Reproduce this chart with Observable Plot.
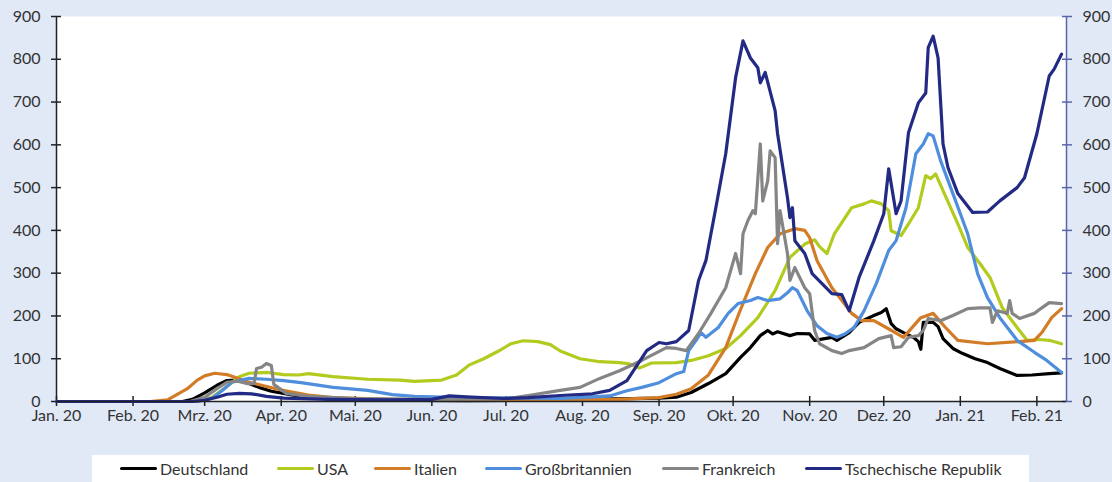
<!DOCTYPE html>
<html><head><meta charset="utf-8">
<script src="https://cdn.jsdelivr.net/npm/d3@7"></script>
<script src="https://cdn.jsdelivr.net/npm/@observablehq/plot@0.6"></script>
<style>
body{margin:0;background:#e1e9f7;font-family:Lato,sans-serif;}
#wrap{position:relative;width:1112px;height:482px;overflow:hidden;}
#chart{position:absolute;left:0;top:0;}
#legend{position:absolute;left:92px;top:455px;width:937px;height:27px;background:#fff;}
.item{position:absolute;top:0;height:27px;display:flex;align-items:center;font-size:16px;color:#333;white-space:nowrap;}
.sw{width:37px;height:3.5px;margin-right:3px;border-radius:2px;}
</style></head>
<body><div id="wrap"><div id="chart"></div><div id="legend"></div></div>
<script>
const countries = ["Deutschland","USA","Italien","Großbritannien","Frankreich","Tschechische Republik"];
const colors = ["#000000","#b3cb1f","#d27c27","#4f8edc","#858585","#222a84"];
const monthLabels = ["Jan. 20","Feb. 20","Mrz. 20","Apr. 20","Mai. 20","Jun. 20","Jul. 20","Aug. 20","Sep. 20","Okt. 20","Nov. 20","Dez. 20","Jan. 21","Feb. 21"];
const monthDates = ["2020-01-01","2020-02-01","2020-03-01","2020-04-01","2020-05-01","2020-06-01","2020-07-01","2020-08-01","2020-09-01","2020-10-01","2020-11-01","2020-12-01","2021-01-01","2021-02-01"];
const yTicks = [0,100,200,300,400,500,600,700,800,900];

const deutschland = [["2020-01-01",0],["2020-02-21",0],["2020-02-25",5],["2020-03-01",20],["2020-03-06",38],["2020-03-10",49],["2020-03-14",50],["2020-03-19",42],["2020-03-23",33],["2020-03-28",24],["2020-04-03",18],["2020-04-09",12],["2020-04-20",6],["2020-05-10",3],["2020-06-15",2],["2020-07-15",3],["2020-08-15",6],["2020-09-01",8],["2020-09-08",10],["2020-09-14",21],["2020-09-21",42],["2020-09-28",65],["2020-10-04",103],["2020-10-08",126],["2020-10-12",154],["2020-10-15",166],["2020-10-17",158],["2020-10-19",163],["2020-10-24",154],["2020-10-27",159],["2020-11-01",158],["2020-11-03",143],["2020-11-10",150],["2020-11-12",143],["2020-11-17",161],["2020-11-21",185],["2020-11-27",201],["2020-11-30",208],["2020-12-02",217],["2020-12-04",182],["2020-12-06",170],["2020-12-09",161],["2020-12-13",150],["2020-12-15",140],["2020-12-16",122],["2020-12-17",185],["2020-12-21",185],["2020-12-23",175],["2020-12-25",147],["2020-12-29",124],["2021-01-02",112],["2021-01-07",100],["2021-01-12",91],["2021-01-17",77],["2021-01-24",61],["2021-01-30",62],["2021-02-06",65],["2021-02-11",67]];
const usa = [["2020-01-01",0],["2020-02-26",0],["2020-03-04",10],["2020-03-10",35],["2020-03-15",58],["2020-03-19",66],["2020-03-26",68],["2020-04-02",63],["2020-04-08",62],["2020-04-12",65],["2020-04-22",58],["2020-05-06",52],["2020-05-19",50],["2020-05-25",47],["2020-06-05",50],["2020-06-11",62],["2020-06-16",85],["2020-06-22",100],["2020-06-28",118],["2020-07-03",135],["2020-07-08",142],["2020-07-14",140],["2020-07-19",133],["2020-07-23",118],["2020-07-31",100],["2020-08-08",93],["2020-08-16",91],["2020-08-20",88],["2020-08-24",78],["2020-08-29",90],["2020-09-08",91],["2020-09-14",96],["2020-09-21",107],["2020-09-28",124],["2020-10-04",154],["2020-10-11",196],["2020-10-18",259],["2020-10-24",337],["2020-10-30",368],["2020-11-03",378],["2020-11-05",362],["2020-11-08",346],["2020-11-11",392],["2020-11-18",453],["2020-11-23",462],["2020-11-26",469],["2020-11-30",462],["2020-12-03",446],["2020-12-04",399],["2020-12-08",388],["2020-12-11",415],["2020-12-15",453],["2020-12-18",528],["2020-12-20",521],["2020-12-22",532],["2020-12-25",493],["2020-12-31",415],["2021-01-04",360],["2021-01-09",322],["2021-01-13",290],["2021-01-18",219],["2021-01-24",173],["2021-01-28",143],["2021-02-02",145],["2021-02-06",143],["2021-02-11",135]];
const italien = [["2020-01-01",0],["2020-02-08",0],["2020-02-15",4],["2020-02-18",14],["2020-02-23",30],["2020-02-27",50],["2020-03-01",60],["2020-03-05",66],["2020-03-10",63],["2020-03-19",45],["2020-03-31",28],["2020-04-12",15],["2020-04-22",9],["2020-05-15",5],["2020-06-15",3],["2020-07-15",3],["2020-08-15",5],["2020-09-01",9],["2020-09-08",17],["2020-09-14",30],["2020-09-21",62],["2020-09-28",126],["2020-10-04",215],["2020-10-10",299],["2020-10-15",360],["2020-10-20",392],["2020-10-26",404],["2020-10-30",400],["2020-11-01",383],["2020-11-04",329],["2020-11-10",266],["2020-11-15",229],["2020-11-18",206],["2020-11-22",189],["2020-11-27",189],["2020-12-02",173],["2020-12-09",150],["2020-12-16",196],["2020-12-21",206],["2020-12-26",173],["2020-12-31",143],["2021-01-12",135],["2021-01-25",140],["2021-01-31",143],["2021-02-03",161],["2021-02-07",196],["2021-02-11",217]];
const grossbritannien = [["2020-01-01",0],["2020-02-27",0],["2020-03-04",8],["2020-03-08",25],["2020-03-12",45],["2020-03-19",54],["2020-03-26",52],["2020-04-02",49],["2020-04-09",44],["2020-04-22",33],["2020-05-06",26],["2020-05-16",16],["2020-05-25",12],["2020-06-12",9],["2020-07-10",8],["2020-07-23",7],["2020-08-05",11],["2020-08-12",13],["2020-08-19",25],["2020-08-25",33],["2020-09-01",44],["2020-09-08",65],["2020-09-11",70],["2020-09-13",119],["2020-09-16",143],["2020-09-18",161],["2020-09-20",150],["2020-09-25",173],["2020-09-29",206],["2020-10-03",229],["2020-10-08",236],["2020-10-11",243],["2020-10-15",236],["2020-10-20",240],["2020-10-23",254],["2020-10-25",266],["2020-10-27",259],["2020-10-31",212],["2020-11-04",177],["2020-11-08",159],["2020-11-12",150],["2020-11-15",157],["2020-11-19",173],["2020-11-23",212],["2020-11-28",276],["2020-12-03",353],["2020-12-06",376],["2020-12-10",453],["2020-12-14",579],["2020-12-17",602],["2020-12-19",626],["2020-12-21",621],["2020-12-24",563],["2020-12-29",486],["2021-01-04",392],["2021-01-08",299],["2021-01-12",243],["2021-01-17",196],["2021-01-24",143],["2021-01-31",115],["2021-02-05",96],["2021-02-11",68]];
const frankreich = [["2020-01-01",0],["2020-02-24",0],["2020-03-01",10],["2020-03-06",30],["2020-03-10",45],["2020-03-14",48],["2020-03-18",42],["2020-03-21",42],["2020-03-22",77],["2020-03-24",80],["2020-03-26",89],["2020-03-28",84],["2020-03-29",40],["2020-04-03",19],["2020-04-12",12],["2020-05-01",7],["2020-06-01",5],["2020-07-01",6],["2020-07-10",14],["2020-07-23",26],["2020-07-31",33],["2020-08-08",54],["2020-08-16",72],["2020-08-25",96],["2020-09-04",126],["2020-09-08",124],["2020-09-12",119],["2020-09-17",159],["2020-09-22",206],["2020-09-28",266],["2020-10-02",346],["2020-10-04",299],["2020-10-05",392],["2020-10-07",423],["2020-10-09",446],["2020-10-10",439],["2020-10-12",602],["2020-10-13",469],["2020-10-15",516],["2020-10-16",586],["2020-10-18",570],["2020-10-19",369],["2020-10-20",446],["2020-10-23",346],["2020-10-24",283],["2020-10-26",313],["2020-10-30",266],["2020-11-01",252],["2020-11-03",166],["2020-11-05",135],["2020-11-10",119],["2020-11-14",112],["2020-11-17",119],["2020-11-23",126],["2020-11-29",147],["2020-12-04",154],["2020-12-05",126],["2020-12-08",128],["2020-12-11",150],["2020-12-15",154],["2020-12-17",166],["2020-12-19",194],["2020-12-24",189],["2020-12-29",201],["2021-01-04",217],["2021-01-09",219],["2021-01-13",219],["2021-01-14",185],["2021-01-16",212],["2021-01-20",206],["2021-01-21",236],["2021-01-22",206],["2021-01-25",194],["2021-01-31",206],["2021-02-03",219],["2021-02-06",231],["2021-02-11",229]];
const tschechien = [["2020-01-01",0],["2020-02-25",0],["2020-03-01",3],["2020-03-06",10],["2020-03-10",17],["2020-03-15",19],["2020-03-20",18],["2020-03-26",12],["2020-04-02",8],["2020-04-20",5],["2020-05-15",4],["2020-06-01",5],["2020-06-08",13],["2020-06-15",11],["2020-06-30",7],["2020-07-10",9],["2020-07-23",14],["2020-08-05",18],["2020-08-12",26],["2020-08-19",49],["2020-08-27",119],["2020-09-01",138],["2020-09-04",135],["2020-09-08",140],["2020-09-13",166],["2020-09-17",283],["2020-09-20",330],["2020-09-24",453],["2020-09-28",579],["2020-10-02",757],["2020-10-05",843],["2020-10-08",803],["2020-10-11",780],["2020-10-12",745],["2020-10-14",769],["2020-10-18",680],["2020-10-19",626],["2020-10-23",477],["2020-10-24",430],["2020-10-25",453],["2020-10-26",376],["2020-10-30",346],["2020-11-02",299],["2020-11-10",252],["2020-11-14",250],["2020-11-17",212],["2020-11-21",290],["2020-11-27",376],["2020-12-01",439],["2020-12-03",544],["2020-12-06",439],["2020-12-08",469],["2020-12-11",628],["2020-12-15",698],["2020-12-18",721],["2020-12-19",827],["2020-12-21",854],["2020-12-23",803],["2020-12-25",602],["2020-12-27",547],["2020-12-31",486],["2021-01-06",442],["2021-01-12",443],["2021-01-17",469],["2021-01-24",500],["2021-01-27",523],["2021-02-01",626],["2021-02-06",761],["2021-02-08",777],["2021-02-11",812]];

const seriesData = [deutschland, usa, italien, grossbritannien, frankreich, tschechien];
const rows = [];
countries.forEach((c, i) => seriesData[i].forEach(([d, v]) => rows.push({country: c, date: new Date(d), value: v})));
const monthTicks = monthDates.map(d => new Date(d));
const x0 = new Date("2020-01-01"), x1 = new Date("2021-02-13");
const axisDark = "#222", axisBlue = "#5a64a8";

const chart = Plot.plot({
  width: 1112, height: 450,
  marginLeft: 56, marginRight: 46, marginTop: 16, marginBottom: 49,
  style: {background: "transparent", fontFamily: "Lato, sans-serif", fontSize: "16px", color: "#333"},
  x: {type: "utc", domain: [x0, x1]},
  y: {domain: [0, 900]},
  color: {domain: countries, range: colors},
  marks: [
    Plot.frame({fill: "white", stroke: "none"}),
    Plot.axisX({ticks: monthTicks, tickFormat: d => monthLabels[monthTicks.findIndex(t => +t === +d)], tickSize: 10, dy: -5, tickPadding: 3, stroke: axisDark, fill: "#333", strokeWidth: 1.5, label: null}),
    Plot.axisY({anchor: "left", ticks: yTicks, tickSize: 10, dx: 5, tickPadding: 11, stroke: axisDark, fill: "#333", strokeWidth: 1.5, label: null}),
    Plot.axisY({anchor: "right", ticks: yTicks, tickSize: 10, dx: -5, tickPadding: 11, stroke: axisBlue, fill: "#333", strokeWidth: 1.5, label: null}),
    Plot.ruleX([x0], {stroke: axisDark, strokeWidth: 1.5}),
    Plot.ruleX([x1], {stroke: axisBlue, strokeWidth: 1.5}),
    Plot.line(rows, {x: "date", y: "value", z: "country", stroke: "country", strokeWidth: 3.2, strokeLinejoin: "round", strokeLinecap: "round"}),
    Plot.ruleY([0], {stroke: axisDark, strokeWidth: 1.5})
  ]
});
document.getElementById("chart").appendChild(chart);

const legendLefts = [28, 185, 282, 393, 570, 713];
const legend = document.getElementById("legend");
countries.forEach((c, i) => {
  const it = document.createElement("div");
  it.className = "item";
  it.style.left = legendLefts[i] + "px";
  const sw = document.createElement("span");
  sw.className = "sw";
  sw.style.background = colors[i];
  const tx = document.createElement("span");
  tx.textContent = c;
  it.appendChild(sw); it.appendChild(tx);
  legend.appendChild(it);
});
</script></body></html>
